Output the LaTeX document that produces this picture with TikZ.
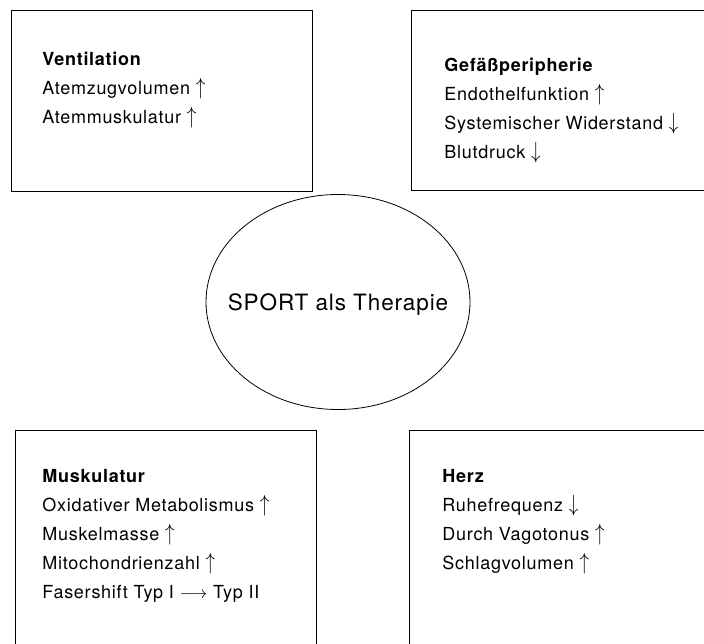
\documentclass[tikz,border=0pt]{standalone}
\usepackage{fontspec}
\setmainfont[LetterSpace=4]{TeX Gyre Heros}
\usetikzlibrary{positioning}
\usetikzlibrary{shapes.geometric}

\newcommand{\up}{~\scalebox{1.1}[1.35]{$\uparrow$}}
\newcommand{\down}{~\scalebox{1.1}[1.35]{$\downarrow$}}

\begin{document}
\begin{tikzpicture}[x=1pt,y=1pt,line width=0.9pt,
  box node/.style={draw,rectangle,anchor=north west,inner sep=0pt},
  list node/.style={anchor=north west,align=left,inner sep=0pt,
  font=\fontsize{18}{29}\selectfont},
  center node/.style={ellipse,draw,line width=0.8pt,inner sep=0pt,
  minimum width=264,minimum height=215}]
  \useasboundingbox (0,0) rectangle (704,-643);

  % the four boxes, two of them run off the page
  \node[box node,minimum width=301,minimum height=181] (V) at (11,-10) {};
  \node[box node,minimum width=320,minimum height=180] (G) at (411,-10) {};
  \node[box node,minimum width=301,minimum height=240] (M) at (15,-430) {};
  \node[box node,minimum width=320,minimum height=240] (H) at (409,-430) {};

  \node[center node] (S) at (338,-302) {};
  \node[font=\fontsize{22.5}{26}\selectfont,text depth=0pt] (SL) at (S) {SPORT als Therapie};

  \node[list node,below right=42pt and 31pt of V.north west] (Vtext)
    {\textbf{Ventilation}\\
     Atemzugvolumen\up\\
     Atemmuskulatur\up};
  \node[list node,below right=48pt and 33pt of G.north west] (Gtext)
    {\textbf{Gefäßperipherie}\\
     Endothelfunktion\up\\
     Systemischer Widerstand\down\\
     Blutdruck\down};
  \node[list node,below right=39pt and 27pt of M.north west] (Mtext)
    {\textbf{Muskulatur}\\
     Oxidativer Metabolismus\up\\
     Muskelmasse\up\\
     Mitochondrienzahl\up\\
     Fasershift Typ I $\longrightarrow$ Typ II};
  \node[list node,below right=39pt and 33pt of H.north west] (Htext)
    {\textbf{Herz}\\
     Ruhefrequenz\down\\
     Durch Vagotonus\up\\
     Schlagvolumen\up};
\end{tikzpicture}
\end{document}
